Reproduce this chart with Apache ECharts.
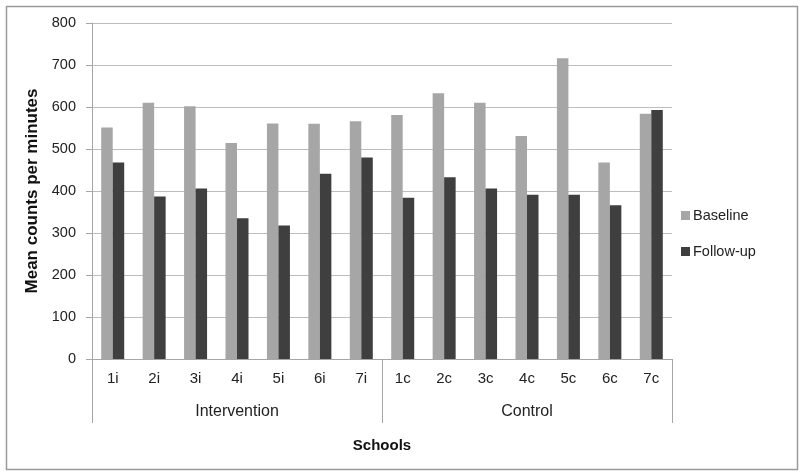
<!DOCTYPE html>
<html><head><meta charset="utf-8">
<script src="https://cdn.jsdelivr.net/npm/echarts@6/dist/echarts.min.js"></script>
<style>html,body{margin:0;padding:0;background:#fff}#c{width:800px;height:472px}</style>
</head><body><div id="c"></div>
<script>
const schools = ['1i','2i','3i','4i','5i','6i','7i','1c','2c','3c','4c','5c','6c','7c'];
const groups = ['Intervention','Control'];
const baseline = [551, 610, 602, 514, 561, 560, 566, 581, 633, 610, 531, 716, 468, 584];
const followUp = [468, 387, 406, 335, 318, 441, 480, 384, 433, 406, 391, 391, 366, 593];
const yTicks = {min: 0, max: 800, interval: 100};

const FONT = "'Liberation Sans', Arial, sans-serif";
const chart = echarts.init(document.getElementById('c'), null, {renderer: 'canvas'});
chart.setOption({
  animation: false,
  backgroundColor: '#fff',
  textStyle: {fontFamily: FONT},
  graphic: [{
    type: 'rect', left: 4, top: 4, shape: {width: 791, height: 463},
    style: {fill: 'none', stroke: '#9a9a9a', lineWidth: 1.5}, silent: true
  }],
  grid: {left: 92, right: 128, top: 23, bottom: 113, containLabel: false},
  legend: {
    orient: 'vertical', left: 676, top: 203, itemGap: 21,
    itemWidth: 9, itemHeight: 9, icon: 'rect',
    textStyle: {fontFamily: FONT, fontSize: 14.5, color: '#222', padding: [0,0,0,-2]},
    data: ['Baseline', 'Follow-up']
  },
  xAxis: [{
    type: 'category', data: schools, position: 'bottom',
    axisLine: {show: true, lineStyle: {color: '#a6a6a6', width: 1}},
    axisTick: {show: false},
    axisLabel: {color: '#222', fontSize: 15, margin: 12, fontFamily: FONT},
    name: 'Schools', nameLocation: 'middle', nameGap: 79,
    nameTextStyle: {fontWeight: 'bold', fontSize: 15, color: '#111', fontFamily: FONT}
  }, {
    type: 'category', data: groups, position: 'bottom', boundaryGap: true,
    axisLine: {show: false},
    axisTick: {show: true, length: 64, alignWithLabel: false, lineStyle: {color: '#a6a6a6'}},
    axisLabel: {color: '#222', fontSize: 16, margin: 45, fontFamily: FONT},
    splitLine: {show: false}
  }],
  yAxis: {
    type: 'value', min: yTicks.min, max: yTicks.max, interval: yTicks.interval,
    axisLine: {show: true, lineStyle: {color: '#a6a6a6'}},
    axisTick: {show: true, length: 6, lineStyle: {color: '#a6a6a6'}},
    axisLabel: {color: '#222', fontSize: 14.5, margin: 16, fontFamily: FONT},
    splitLine: {lineStyle: {color: '#bdbdbd', width: 1}},
    name: 'Mean counts per minutes', nameLocation: 'middle', nameGap: 49,
    nameTextStyle: {fontWeight: 'bold', fontSize: 17, color: '#111', fontFamily: FONT}
  },
  series: [{
    name: 'Baseline', type: 'bar', data: baseline, barWidth: 11.5, barGap: '0%',
    itemStyle: {color: '#a6a6a6'}
  }, {
    name: 'Follow-up', type: 'bar', data: followUp, barWidth: 11.5, barGap: '0%',
    itemStyle: {color: '#3f3f3f'}
  }]
});
</script></body></html>
